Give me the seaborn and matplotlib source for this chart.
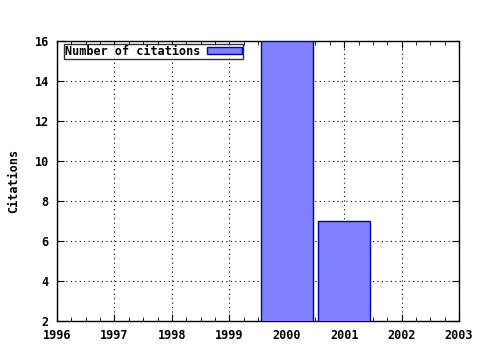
import matplotlib
matplotlib.use("Agg")
import matplotlib.pyplot as plt
import seaborn as sns
import pandas as pd
from matplotlib.ticker import MultipleLocator

years = [2000, 2001]
citations = [16, 7]
xticks = [1996, 1997, 1998, 1999, 2000, 2001, 2002, 2003]
yticks = [2, 4, 6, 8, 10, 12, 14, 16]

sns.set_style("white")
plt.rcParams['font.family'] = ['DejaVu Sans Mono']
plt.rcParams['font.weight'] = 'bold'
plt.rcParams['font.size'] = 8.5
plt.rcParams['text.color'] = 'black'
plt.rcParams['xtick.color'] = 'black'
plt.rcParams['ytick.color'] = 'black'
plt.rcParams['axes.labelcolor'] = 'black'

df = pd.DataFrame({"year": years, "citations": citations})

fig = plt.figure(figsize=(4.8, 3.5), dpi=100)
ax = fig.add_axes([57/480, 1-321/350, (459-57)/480, (321-41)/350])
sns.barplot(data=df, x="year", y="citations", native_scale=True, width=0.9,
            color="#8080ff", saturation=1, edgecolor="#0000a0", linewidth=1,
            label="Number of citations", ax=ax, zorder=3)

ax.set_xlim(1996, 2003)
ax.set_ylim(2, 16)
ax.set_xticks(xticks)
ax.set_xticklabels([str(x) for x in xticks], fontweight='bold')
ax.set_yticks(yticks)
ax.set_yticklabels([str(y) for y in yticks], fontweight='bold')
ax.xaxis.set_minor_locator(MultipleLocator(0.25))
ax.grid(True, which='major', color='black', linestyle=(0, (1, 3)), linewidth=0.8, zorder=0)
ax.set_axisbelow(True)
for s in ax.spines.values():
    s.set_visible(True)
    s.set_color('black')
    s.set_linewidth(1)
ax.tick_params(which='major', direction='in', length=5, top=True, right=True, bottom=True, left=True, color='black', pad=6)
ax.tick_params(which='minor', direction='in', length=3, top=True, bottom=True, color='black')
ax.set_xlabel("")
ax.set_ylabel("Citations", fontweight='bold', labelpad=10)

leg = ax.legend(loc='upper left', markerfirst=False, frameon=True, fancybox=False,
                borderpad=0.1, handlelength=2.9, handleheight=0.5, handletextpad=0.6,
                bbox_to_anchor=(0.017, 0.99), borderaxespad=0)
leg.get_frame().set_edgecolor('black')
leg.get_frame().set_linewidth(1)
for t in leg.get_texts():
    t.set_fontweight('bold')

fig.savefig("out.png", dpi=100)
